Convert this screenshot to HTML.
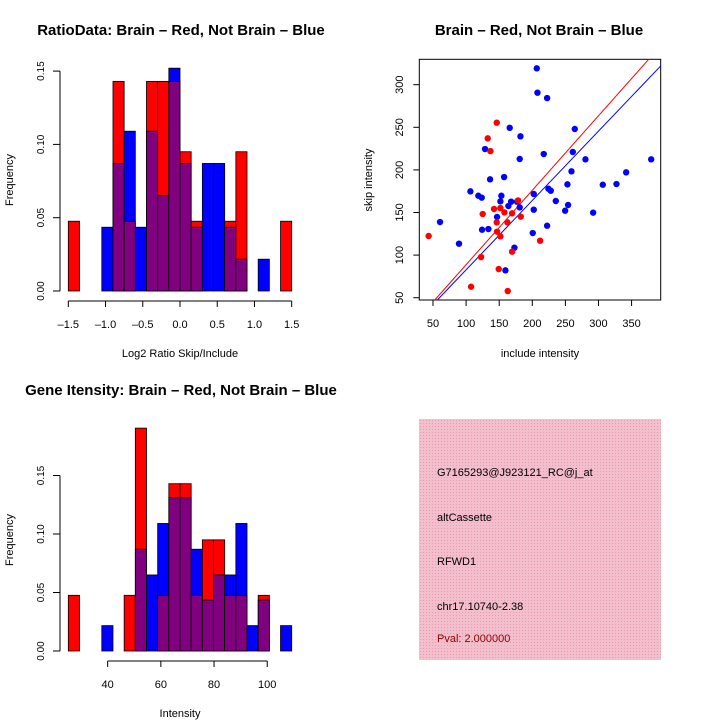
<!DOCTYPE html>
<html><head><meta charset="utf-8"><style>
body{margin:0;background:#fff}
svg text{font-family:"Liberation Sans",sans-serif;fill:#000}
</style></head><body>
<svg id="s" width="720" height="720" xmlns="http://www.w3.org/2000/svg">
<defs><pattern id="pk" width="3" height="3" patternUnits="userSpaceOnUse"><rect width="3" height="3" fill="#f4bfcd"/><rect width="1" height="1" fill="#e89ab0"/></pattern></defs>
<text x="181" y="35" font-size="15" font-weight="bold" text-anchor="middle">RatioData: Brain – Red, Not Brain – Blue</text>
<text x="539" y="35" font-size="15" font-weight="bold" text-anchor="middle">Brain – Red, Not Brain – Blue</text>
<text x="181" y="395" font-size="15" font-weight="bold" text-anchor="middle">Gene Itensity: Brain – Red, Not Brain – Blue</text>
<text x="180" y="357" font-size="11" text-anchor="middle">Log2 Ratio Skip/Include</text>
<text x="180" y="717" font-size="11" text-anchor="middle">Intensity</text>
<text x="540" y="357" font-size="11" text-anchor="middle">include intensity</text>
<text transform="translate(13,180) rotate(-90)" font-size="11" text-anchor="middle">Frequency</text>
<text transform="translate(13,540) rotate(-90)" font-size="11" text-anchor="middle">Frequency</text>
<text transform="translate(372,180) rotate(-90)" font-size="11" text-anchor="middle">skip intensity</text>
<rect x="419" y="419" width="242" height="241" fill="url(#pk)"/>
<text x="437" y="476" font-size="11">G7165293@J923121_RC@j_at</text>
<text x="437" y="521" font-size="11">altCassette</text>
<text x="437" y="565" font-size="11">RFWD1</text>
<text x="437" y="610" font-size="11">chr17.10740-2.38</text>
<text x="437" y="642" font-size="11" style="fill:#8b0000">Pval: 2.000000</text>
</svg>
<script>
const ratioRed=[0.0476,0,0,0,0.143,0.0476,0,0.143,0.143,0.143,0.095,0.0476,0,0,0.0476,0.095,0,0,0,0.0476];
const ratioBlue=[0,0,0,0.0435,0.087,0.109,0.0435,0.109,0.065,0.152,0.087,0.0435,0.087,0.087,0.0435,0.0217,0,0.0217,0,0];
const ratioXTicks=[-1.5,-1.0,-0.5,0.0,0.5,1.0,1.5];
const intRed=[0.0476,0,0,0,0,0.0476,0.1905,0,0.0476,0.143,0.143,0.0476,0.095,0.095,0.0476,0.0476,0,0.0476,0,0];
const intBlue=[0,0,0,0.0217,0,0,0.087,0.065,0.109,0.131,0.131,0.087,0.0435,0.065,0.065,0.109,0.0217,0.0435,0,0.0217];
const intXTicks=[40,60,80,100];
const freqTicks=[0.00,0.05,0.10,0.15];
const redX=[146.3,132.7,136.7,178.5,142.2,151.8,157.9,169.5,125.1,182.6,146.3,162.4,146.8,151.8,43.4,122.6,169.5,211.8,149.3,107.5,162.9];
const redY=[255.4,237,222.1,164.2,154.1,155.2,150.1,149,148.2,145.1,138.4,138.4,127.5,122,122.4,97.7,104,116.9,83.6,62.9,57.8];
const blueX=[206.8,207.8,222.4,165.9,182.1,128.6,181,217.3,261.2,264.2,280.3,379.6,259.2,341.8,157.4,136.2,106.5,118.5,123.6,153.3,151.8,168,177,163.9,181,202.2,224.4,227.9,253.1,235.5,254.1,249.6,306.5,327.2,291.9,202.2,146.8,222.4,124.1,133.7,200.7,89.3,60.6,173,159.4];
const blueY=[319.2,290.6,284.3,249.4,239.4,224.5,212.8,218.6,221,248,212.4,212.4,198.3,197.1,191.6,188.9,174.8,169.7,167.4,169.7,163.1,162.7,162.7,157.6,156,171.7,177.9,175.6,183,163.5,158.8,152.1,182.6,183.4,149.8,153.3,144.7,134.5,129.8,130.6,125.9,113.4,138.8,108.7,82.1];
const scXTicks=[50,100,150,200,250,300,350];
const scYTicks=[50,100,150,200,250,300];
const redFit=[0.874,1.3];
const blueFit=[0.814,1.3];

const S=document.getElementById('s');
const NS='http://www.w3.org/2000/svg';
function mk(t,a){const e=document.createElementNS(NS,t);for(const k in a)e.setAttribute(k,a[k]);S.appendChild(e);return e;}

function hist(red,blue,xmin,xmax,xLo,xHi,xt,y0,per05,lab){
  const n=red.length,bw=(xHi-xLo)/n;
  const sx=v=>xLo+(v-xmin)/(xmax-xmin)*(xHi-xLo);
  const sy=v=>y0-v/0.05*per05;
  for(let i=0;i<n;i++){
    const r=red[i],b=blue[i],x=xLo+i*bw;
    const hi=Math.max(r,b),lo=Math.min(r,b);
    if(hi>0){
      const e=mk('rect',{x:x,y:sy(hi),width:bw,height:y0-sy(hi),fill:r>=b?'#ff0000':'#0000ff',stroke:'#000','stroke-width':0.8});
      
      
    }
    if(lo>0){
      const e=mk('rect',{x:x,y:sy(lo),width:bw,height:y0-sy(lo),fill:'#800080',stroke:'#000','stroke-width':0.8});
      
      
    }
  }
  const ya=mk('path',{d:'M60 '+sy(freqTicks[0])+'V'+sy(freqTicks[freqTicks.length-1]),stroke:'#000',fill:'none'});
  
  
  freqTicks.forEach(v=>{
    mk('path',{d:'M53 '+sy(v)+'H60',stroke:'#000'});
    const t=mk('text',{transform:'translate(44,'+sy(v)+') rotate(-90)','font-size':10,'text-anchor':'middle'});
    t.textContent=v.toFixed(2);
    
    
  });
  const ax=y0+10;
  const xa=mk('path',{d:'M'+sx(xt[0])+' '+ax+'H'+sx(xt[xt.length-1]),stroke:'#000',fill:'none'});
  
  
  xt.forEach(v=>{
    mk('path',{d:'M'+sx(v)+' '+ax+'v6',stroke:'#000'});
    const t=mk('text',{x:sx(v),y:ax+27,'font-size':11,'text-anchor':'middle'});
    t.textContent=(Number.isInteger(v)&&lab==='intensity')?String(v):v.toFixed(1).replace('-','–');
    
    
  });
}
hist(ratioRed,ratioBlue,-1.5,1.5,68.3,291.7,ratioXTicks,291,73.3,'ratio');
hist(intRed,intBlue,25.2,109.2,68.3,291.7,intXTicks,651,58.5,'intensity');

const L=419.3,R=660.7,T=59.3,B=300,xmn=29.3,xmx=394,ymn=47.3,ymx=329.8;
const px=v=>L+(v-xmn)/(xmx-xmn)*(R-L);
const py=v=>B-(v-ymn)/(ymx-ymn)*(B-T);
const box=mk('rect',{x:L,y:T,width:R-L,height:B-T,fill:'none',stroke:'#000'});


scXTicks.forEach(v=>{
  mk('path',{d:'M'+px(v)+' '+B+'v6',stroke:'#000'});
  const t=mk('text',{x:px(v),y:B+27,'font-size':11,'text-anchor':'middle'});
  t.textContent=v;
  
  
});
scYTicks.forEach(v=>{
  mk('path',{d:'M'+(L-6)+' '+py(v)+'H'+L,stroke:'#000'});
  const t=mk('text',{transform:'translate(403,'+py(v)+') rotate(-90)','font-size':11,'text-anchor':'middle'});
  t.textContent=v;
  
  
});
function fit(f,c,nm){
  const x1=(ymn-f[1])/f[0];
  let x2=(ymx-f[1])/f[0],y2=ymx;
  if(x2>xmx){x2=xmx;y2=f[0]*xmx+f[1];}
  const e=mk('line',{x1:px(x1),y1:py(ymn),x2:px(x2),y2:py(y2),stroke:c,'stroke-width':1});
  
  
}
fit(redFit,'#ff0000','red-fit-line');
fit(blueFit,'#0000ff','blue-fit-line');
blueX.forEach((v,i)=>{
  const e=mk('circle',{cx:px(v),cy:py(blueY[i]),r:3.2,fill:'#0000ff'});
  
  
});
redX.forEach((v,i)=>{
  const e=mk('circle',{cx:px(v),cy:py(redY[i]),r:3.2,fill:'#ff0000'});
  
  
});
</script>
</body></html>
